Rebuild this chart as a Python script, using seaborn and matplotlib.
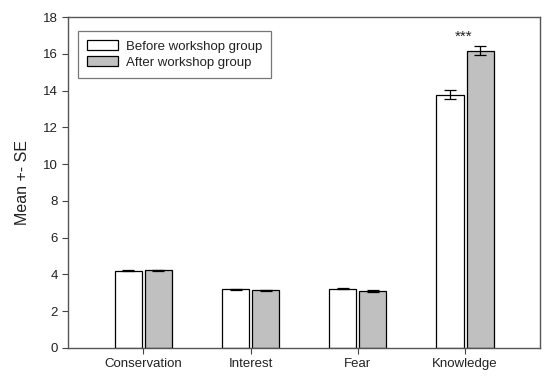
import numpy as np
import pandas as pd
import matplotlib
matplotlib.use("Agg")
import matplotlib.pyplot as plt
import seaborn as sns

categories = ["Conservation", "Interest", "Fear", "Knowledge"]
groups = ["Before workshop group", "After workshop group"]
before_mean = [4.20, 3.18, 3.22, 13.78]
after_mean = [4.22, 3.13, 3.10, 16.18]
before_se = [0.03, 0.04, 0.04, 0.24]
after_se = [0.04, 0.04, 0.04, 0.24]
star_label = "***"

df = pd.DataFrame({
    "category": categories * 2,
    "group": [groups[0]] * 4 + [groups[1]] * 4,
    "mean": before_mean + after_mean,
    "se": before_se + after_se,
})

sns.set_style("white")
plt.rcParams["font.family"] = ["Liberation Sans", "DejaVu Sans"]

fig, ax = plt.subplots(figsize=(5.5, 3.81), dpi=100)
fig.subplots_adjust(left=0.124, right=0.982, top=0.955, bottom=0.087)

sns.barplot(data=df, x="category", y="mean", hue="group", order=categories,
            hue_order=groups, palette=["white", "#c0c0c0"], width=0.56, gap=0.1,
            edgecolor="black", linewidth=0.9, errorbar=None, ax=ax)

# error bars at the centres of the drawn bars
for container, se in zip(ax.containers, [before_se, after_se]):
    xs = [p.get_x() + p.get_width() / 2 for p in container.patches]
    ys = [p.get_height() for p in container.patches]
    ax.errorbar(xs, ys, yerr=se, fmt="none", ecolor="black", elinewidth=0.9,
                capsize=4, capthick=0.9, zorder=5)

ax.text(2.99, 16.95, star_label, ha="center", va="center", fontsize=11,
        color="#222222")

ax.set_xlim(-0.7, 3.7)
ax.set_ylim(0, 18)
ax.set_yticks(np.arange(0, 19, 2))
ax.set_xlabel("")
ax.set_ylabel("Mean +- SE", fontsize=11.5, labelpad=9, color="#222222")
ax.tick_params(axis="both", labelsize=9.5, direction="out", length=4,
               width=0.8, color="#444444", labelcolor="#222222",
               left=True, bottom=True)
for s in ax.spines.values():
    s.set_color("#555555")
    s.set_linewidth(1.0)

leg = ax.legend(loc="upper left", bbox_to_anchor=(0.021, 0.958), fontsize=9.5,
                frameon=True, fancybox=False, edgecolor="#555555",
                handlelength=2.3, handleheight=0.8, borderpad=0.7,
                borderaxespad=0, labelspacing=0.25, handletextpad=0.6)
leg.get_frame().set_linewidth(0.9)
for t in leg.get_texts():
    t.set_color("#222222")

fig.savefig("out.png", dpi=100)
